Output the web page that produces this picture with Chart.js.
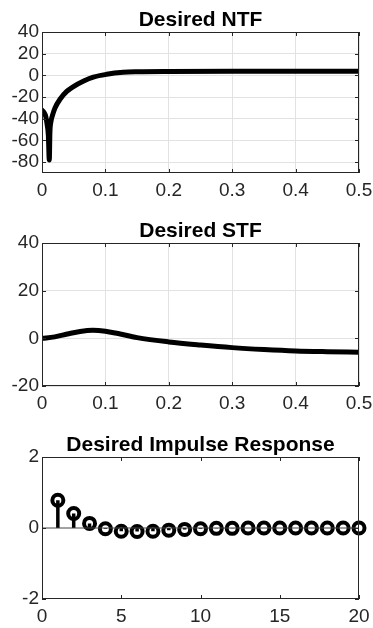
<!DOCTYPE html>
<html>
<head>
<meta charset="utf-8">
<script src="https://cdn.jsdelivr.net/npm/chart.js@4.4.1/dist/chart.umd.min.js"></script>
<style>
  html, body { margin: 0; padding: 0; background: #fff; }
  #wrap { position: relative; width: 373px; height: 628px; overflow: hidden; }
  canvas { position: absolute; left: 0; }
</style>
</head>
<body>
<div id="wrap">
  <canvas id="ntf" width="373" height="210" style="top:0px"></canvas>
  <canvas id="stf" width="373" height="210" style="top:210px"></canvas>
  <canvas id="imp" width="373" height="208" style="top:420px"></canvas>
</div>
<script>
// ---- data ----
const ntfFreq = [0, 0.003, 0.006, 0.008, 0.010, 0.0115, 0.0125, 0.014, 0.017, 0.0205, 0.0284, 0.039, 0.049, 0.065, 0.081, 0.102, 0.128, 0.15, 0.2, 0.3, 0.4, 0.5];
const ntfMag = [-32, -34, -38, -45, -55, -78, -52, -43, -36, -30, -22, -14.8, -10.5, -5.4, -1.6, 1, 2.8, 3.3, 3.6, 3.7, 3.7, 3.7];

const stfFreq = [0, 0.02, 0.04, 0.06, 0.08, 0.1, 0.12, 0.15, 0.2, 0.25, 0.3, 0.35, 0.4, 0.45, 0.5];
const stfMag = [0, 0.6, 1.8, 2.9, 3.4, 3.0, 2.0, 0.3, -1.5, -2.8, -3.9, -4.7, -5.3, -5.6, -5.8];

const impN = [1, 2, 3, 4, 5, 6, 7, 8, 9, 10, 11, 12, 13, 14, 15, 16, 17, 18, 19, 20];
const impVal = [0.78, 0.41, 0.13, -0.02, -0.09, -0.1, -0.09, -0.06, -0.04, -0.02, -0.01, -0.01, 0, 0, 0, 0, 0, 0, 0, 0];

const freqTicks = [0, 0.1, 0.2, 0.3, 0.4, 0.5];
const ntfTicks = [-80, -60, -40, -20, 0, 20, 40];
const stfTicks = [-20, 0, 20, 40];
const impXTicks = [0, 5, 10, 15, 20];
const impYTicks = [-2, 0, 2];

const FONT = '"Liberation Sans", Arial, Helvetica, sans-serif';
const AXIS = '#262626';

// box round the plot, inner tick marks and the bold title
const frame = {
    id: 'frame',
    afterDraw(chart, args, opts) {
        const { ctx, chartArea: a, scales } = chart;
        ctx.save();
        ctx.strokeStyle = AXIS;
        ctx.lineWidth = 1;
        ctx.strokeRect(Math.round(a.left) + 0.5, Math.round(a.top) + 0.5,
            Math.round(a.right - a.left) - 1, Math.round(a.bottom - a.top) - 1);
        ctx.beginPath();
        scales.x.ticks.forEach(t => {
            const px = Math.round(scales.x.getPixelForValue(t.value)) + 0.5;
            ctx.moveTo(px, a.bottom); ctx.lineTo(px, a.bottom - 4);
            ctx.moveTo(px, a.top); ctx.lineTo(px, a.top + 4);
        });
        scales.y.ticks.forEach(t => {
            const py = Math.round(scales.y.getPixelForValue(t.value)) + 0.5;
            ctx.moveTo(a.left, py); ctx.lineTo(a.left + 4, py);
            ctx.moveTo(a.right, py); ctx.lineTo(a.right - 4, py);
        });
        ctx.stroke();
        ctx.fillStyle = '#000';
        ctx.font = 'bold 21px ' + FONT;
        ctx.textAlign = 'center';
        ctx.textBaseline = 'alphabetic';
        ctx.fillText(opts.text, (a.left + a.right) / 2, a.top - 6);
        ctx.restore();
    }
};

function axisOpts(min, max, tickList, showGrid, fitSize, isX) {
    return {
        type: 'linear',
        min: min,
        max: max,
        border: { display: false },
        grid: { display: showGrid, color: '#e2e2e2', lineWidth: 1, drawTicks: false },
        ticks: {
            color: AXIS,
            font: { family: FONT, size: 19 },
            padding: isX ? 6 : 3,
            autoSkip: false,
            maxRotation: 0,
            callback: v => String(v)
        },
        afterBuildTicks: s => { s.ticks = tickList.map(v => ({ value: v })); },
        afterFit: s => {
            if (isX) s.height = fitSize; else s.width = fitSize;
            // labels may hang over the edges, as in the original
            s.paddingLeft = 0; s.paddingRight = 0; s.paddingTop = 0; s.paddingBottom = 0;
        }
    };
}

function makePanel(id, title, datasets, xr, yr, showGrid, padTop, xAxisH) {
    return new Chart(document.getElementById(id).getContext('2d'), {
        type: 'line',
        data: { datasets: datasets },
        plugins: [frame],
        options: {
            responsive: false,
            animation: false,
            events: [],
            layout: { padding: { top: padTop, right: 14, bottom: 0, left: 0 } },
            plugins: { legend: { display: false }, tooltip: { enabled: false }, frame: { text: title } },
            scales: {
                x: axisOpts(xr[0], xr[1], xr[2], showGrid, xAxisH, true),
                y: axisOpts(yr[0], yr[1], yr[2], showGrid, 42, false)
            }
        }
    });
}

function curve(xs, ys) {
    return {
        data: xs.map((x, i) => ({ x: x, y: ys[i] })),
        borderColor: '#000',
        borderWidth: 5,
        borderCapStyle: 'round',
        borderJoinStyle: 'round',
        cubicInterpolationMode: 'monotone',
        pointRadius: 0,
        fill: false
    };
}

makePanel('ntf', 'Desired NTF', [curve(ntfFreq, ntfMag)],
    [0, 0.5, freqTicks], [-90, 40, ntfTicks], true, 32, 37);

makePanel('stf', 'Desired STF', [curve(stfFreq, stfMag)],
    [0, 0.5, freqTicks], [-20, 40, stfTicks], true, 33, 34);

// stems: one segment per sample, broken by nulls
const stemPts = [];
impN.forEach((n, i) => {
    stemPts.push({ x: n, y: 0 }, { x: n, y: impVal[i] }, { x: n, y: null });
});

makePanel('imp', 'Desired Impulse Response', [
    {
        data: [{ x: 0, y: 0 }, { x: 20, y: 0 }],
        borderColor: '#444',
        borderWidth: 1,
        pointRadius: 0
    },
    {
        data: stemPts,
        borderColor: '#000',
        borderWidth: 3.5,
        pointRadius: 0,
        spanGaps: false
    },
    {
        data: impN.map((n, i) => ({ x: n, y: impVal[i] })),
        showLine: false,
        pointStyle: 'circle',
        pointRadius: 5.5,
        pointBorderWidth: 4,
        pointBorderColor: '#000',
        pointBackgroundColor: 'rgba(0,0,0,0)',
        clip: false
    }
], [0, 20, impXTicks], [-2, 2, impYTicks], false, 37, 29);
</script>
</body>
</html>
